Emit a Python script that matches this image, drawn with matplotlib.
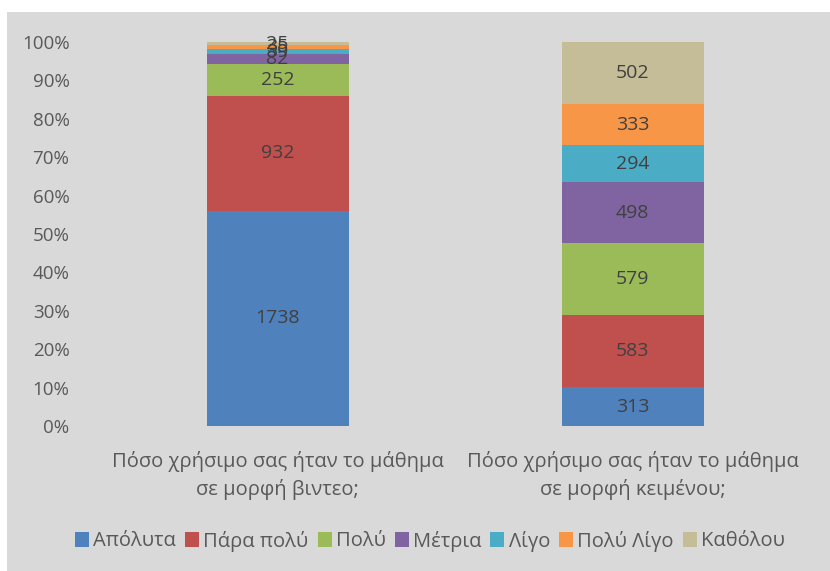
import numpy as np
import matplotlib
matplotlib.use("Agg")
import matplotlib.pyplot as plt
from matplotlib.patches import Rectangle

# ------------------------------
# Data
# ------------------------------
QUESTIONS = [
    "Πόσο χρήσιμο σας ήταν το μάθημα\nσε μορφή βιντεο;",
    "Πόσο χρήσιμο σας ήταν το μάθημα\nσε μορφή κειμένου;",
]
ANSWERS = ["Απόλυτα", "Πάρα πολύ", "Πολύ", "Μέτρια", "Λίγο", "Πολύ Λίγο", "Καθόλου"]
VIDEO_COUNTS = [1738, 932, 252, 82, 39, 35, 25]
TEXT_COUNTS = [313, 583, 579, 498, 294, 333, 502]

COLORS = ["#4f81bd", "#c0504d", "#9bbb59", "#8064a2", "#4bacc6", "#f79646", "#c4bd97"]

plt.rcParams["font.family"] = ["Open Sans", "DejaVu Sans"]

# ------------------------------
# Chart
# ------------------------------
counts = np.array([VIDEO_COUNTS, TEXT_COUNTS], dtype=float)
shares = counts / counts.sum(axis=1, keepdims=True) * 100

fig = plt.figure(figsize=(8.3, 5.71), dpi=100)
fig.add_artist(Rectangle((7 / 830, 0), 1, 1 - 12 / 571, transform=fig.transFigure,
                         facecolor="#d9d9d9", edgecolor="none", zorder=-10))
ax = fig.add_axes([100 / 830, 145 / 571, 710 / 830, 384 / 571])
ax.patch.set_alpha(0)

x = np.arange(len(QUESTIONS))
bottom = np.zeros(len(QUESTIONS))
for i, name in enumerate(ANSWERS):
    ax.bar(x, shares[:, i], width=0.4, bottom=bottom, color=COLORS[i], label=name)
    for j in range(len(QUESTIONS)):
        ax.text(x[j], bottom[j] + shares[j, i] / 2, str(int(counts[j, i])),
                ha="center", va="center", fontsize=14, color="#404040")
    bottom += shares[:, i]

ax.set_xlim(-0.5, 1.5)
ax.set_ylim(0, 100)
ax.set_yticks(np.arange(0, 101, 10))
ax.set_yticklabels([f"{v}%" for v in range(0, 101, 10)])
ax.set_xticks(x)
ax.set_xticklabels(QUESTIONS, linespacing=1.45)
ax.tick_params(axis="y", length=0, labelsize=13.5, labelcolor="#595959", pad=22)
ax.tick_params(axis="x", length=0, labelsize=14.5, labelcolor="#595959", pad=18)
for s in ax.spines.values():
    s.set_visible(False)

fig.legend(loc="center", bbox_to_anchor=(0.518, 1 - 541 / 571), ncol=7, frameon=False,
           fontsize=14.5, labelcolor="#595959", handlelength=0.7, handleheight=0.7,
           handletextpad=0.2, columnspacing=0.45)

fig.savefig("out.png", dpi=100, facecolor="white")
